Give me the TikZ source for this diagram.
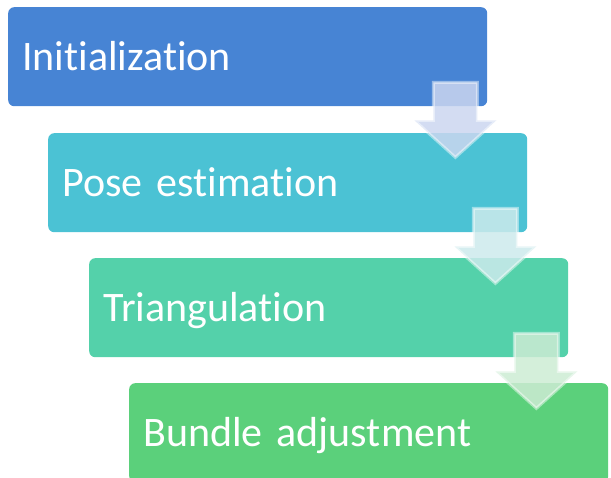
\documentclass[tikz,border=0pt]{standalone}
\usepackage{fontspec}
\setmainfont{Carlito}[Ligatures={NoCommon,NoRare,NoContextual}]
\usetikzlibrary{calc}

\definecolor{stepA}{RGB}{71,132,212}
\definecolor{stepB}{RGB}{75,194,212}
\definecolor{stepC}{RGB}{84,209,170}
\definecolor{stepD}{RGB}{91,208,123}
\definecolor{arrA}{RGB}{203,214,240}
\definecolor{arrB}{RGB}{205,234,236}
\definecolor{arrC}{RGB}{205,236,212}

\tikzset{
  stagebox/.style={rectangle,rounded corners=6pt,anchor=north west,
    text=white,text width=451pt,align=left,inner xsep=14pt,inner ysep=0pt,
    minimum height=99pt,text height=27pt,text depth=0pt,
    font=\fontsize{42}{50}\selectfont},
  downarrow/.style={draw=white,draw opacity=.45,line width=3pt,
    fill opacity=.85,line join=miter}
}

\begin{document}
\begin{tikzpicture}[x=1pt,y=-1pt]
\useasboundingbox (0,0) rectangle (611,478);
% the four stages, shifted right one step each
\node[stagebox,fill=stepA] (init) at (8,7) {Initialization};
\node[stagebox,fill=stepB] (pose) at (48,133) {Pose estimation};
\node[stagebox,fill=stepC] (tri) at (89,258) {Triangulation};
\node[stagebox,fill=stepD] (bundle) at (129,383) {Bundle adjustment};
% block arrows hanging over the lower right corners
\foreach \a/\c in {init/arrA,pose/arrB,tri/arrC}{
  \filldraw[downarrow,fill=\c] ($(\a.south east)+(-54,-24)$) -- ++(44,0) -- ++(0,38)
    -- ++(19,0) -- ++(-41,37) -- ++(-41,-37) -- ++(19,0) -- cycle;
}
\end{tikzpicture}
\end{document}
